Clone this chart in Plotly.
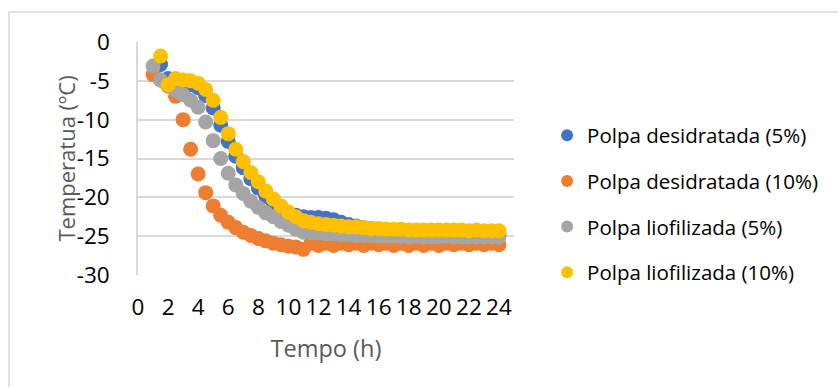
import plotly.graph_objects as go

# Sampling times (h), every half hour
hours = [1, 1.5, 2, 2.5, 3, 3.5, 4, 4.5, 5, 5.5, 6, 6.5, 7, 7.5, 8, 8.5,
         9, 9.5, 10, 10.5, 11, 11.5, 12, 12.5, 13, 13.5, 14, 14.5, 15, 15.5,
         16, 16.5, 17, 17.5, 18, 18.5, 19, 19.5, 20, 20.5, 21, 21.5, 22, 22.5,
         23, 23.5, 24]

# Temperature (ºC) for each sample
desidratada_5 = [None, -2.9, -4.7, -5.0, -5.2, -5.5, -5.9, -6.9, -8.5, -10.7,
                 -12.8, -14.7, -16.2, -17.6, -18.8, -19.9, -20.8, -21.5, -22.0,
                 -22.3, -22.5, -22.6, -22.6, -22.7, -22.9, -23.2, -23.5, -23.7,
                 -23.9, -24.0, -24.1, -24.2, -24.3, -24.4, -24.4, -24.5, -24.5,
                 -24.6, -24.6, -24.6, -24.7, -24.7, -24.7, -24.7, -24.8, -24.8,
                 -24.8]
desidratada_10 = [-4.2, -4.9, -5.7, -7.0, -10.0, -13.8, -17.0, -19.4, -21.1,
                  -22.3, -23.2, -23.9, -24.5, -24.9, -25.3, -25.6, -25.9, -26.1,
                  -26.3, -26.4, -26.7, -25.9, -26.2, -25.9, -26.2, -25.9, -26.1,
                  -25.9, -26.2, -25.9, -26.1, -25.9, -26.2, -25.9, -26.2, -25.9,
                  -26.2, -25.9, -26.2, -25.9, -26.1, -25.9, -26.1, -25.9, -26.1,
                  -25.9, -26.1]
liofilizada_5 = [-3.1, -4.9, -5.6, -6.2, -6.8, -7.5, -8.4, -10.3, -12.7, -15.0,
                 -16.9, -18.4, -19.5, -20.5, -21.3, -22.0, -22.5, -23.1, -23.6,
                 -24.1, -24.5, -24.6, -24.6, -24.7, -24.7, -24.8, -24.8, -24.9,
                 -24.9, -24.9, -25.0, -25.0, -25.0, -25.0, -25.1, -25.0, -25.1,
                 -25.1, -25.1, -25.0, -25.1, -25.1, -25.1, -25.1, -25.1, -25.1,
                 -25.1]
liofilizada_10 = [None, -1.8, -5.5, -4.7, -4.9, -5.0, -5.3, -6.1, -7.5, -9.7,
                  -11.8, -13.8, -15.4, -16.8, -18.0, -19.2, -20.2, -21.1, -21.9,
                  -22.5, -23.0, -23.2, -23.4, -23.5, -23.6, -23.7, -23.8, -23.8,
                  -23.9, -24.0, -24.0, -24.1, -24.1, -24.1, -24.2, -24.2, -24.2,
                  -24.2, -24.2, -24.2, -24.2, -24.2, -24.3, -24.2, -24.3, -24.3,
                  -24.3]

series_names = ["Polpa desidratada (5%)", "Polpa desidratada (10%)",
                "Polpa liofilizada (5%)", "Polpa liofilizada (10%)"]
series_values = [desidratada_5, desidratada_10, liofilizada_5, liofilizada_10]
series_colors = ["#4472C4", "#ED7D31", "#A5A5A5", "#FFC000"]

x_ticks = list(range(0, 25, 2))
y_ticks = list(range(-30, 1, 5))

FONT = "Open Sans"
GRID = "#D9D9D9"
TITLE_COLOR = "#595959"

fig = go.Figure()
for i, (name, vals, col) in enumerate(zip(series_names, series_values, series_colors)):
    fig.add_trace(go.Scatter(
        x=hours, y=vals, mode="markers", name=name,
        legendgroup=f"g{i}",
        marker=dict(size=15, color=col, line=dict(width=0)),
    ))

fig.update_layout(
    width=838, height=387,
    margin=dict(l=138, r=324, t=42, b=112),
    paper_bgcolor="white", plot_bgcolor="white",
    font=dict(family=FONT, size=22, color="#000000"),
    showlegend=True,
    legend=dict(
        x=1.088, y=0.305, xanchor="left", yanchor="middle",
        font=dict(family=FONT, size=20.5, color="#000000"),
        tracegroupgap=16, itemsizing="constant",
        bgcolor="rgba(0,0,0,0)",
    ),
    xaxis=dict(
        range=[0, 25], tickvals=x_ticks, ticktext=[str(v) for v in x_ticks],
        showgrid=False, zeroline=False, showline=False, ticks="",
        ticklabelstandoff=16,
        tickfont=dict(family=FONT, size=22.5, color="#000000"),
        title=dict(text="Tempo (h)", standoff=20,
                   font=dict(family=FONT, size=23.5, color=TITLE_COLOR)),
    ),
    yaxis=dict(
        range=[-30, 0], tickvals=y_ticks, ticktext=[str(v) for v in y_ticks],
        showgrid=True, gridcolor=GRID, gridwidth=1.5,
        zeroline=False, showline=True, linecolor=GRID, linewidth=1.5,
        ticks="", ticklabelstandoff=22,
        tickfont=dict(family=FONT, size=22.5, color="#000000"),
    ),
    annotations=[dict(
        text="Temperatua (ºC)", textangle=-90,
        xref="paper", yref="paper", x=-0.194, y=0.5,
        xanchor="center", yanchor="middle", showarrow=False,
        font=dict(family=FONT, size=22, color=TITLE_COLOR),
    )],
    shapes=[dict(
        type="rect", xref="paper", yref="paper",
        x0=-0.343, x1=2.0, y0=-1.0, y1=1.129,
        line=dict(color=GRID, width=1.5), fillcolor="rgba(0,0,0,0)",
        layer="below",
    )],
)

fig.write_html("out.html")
